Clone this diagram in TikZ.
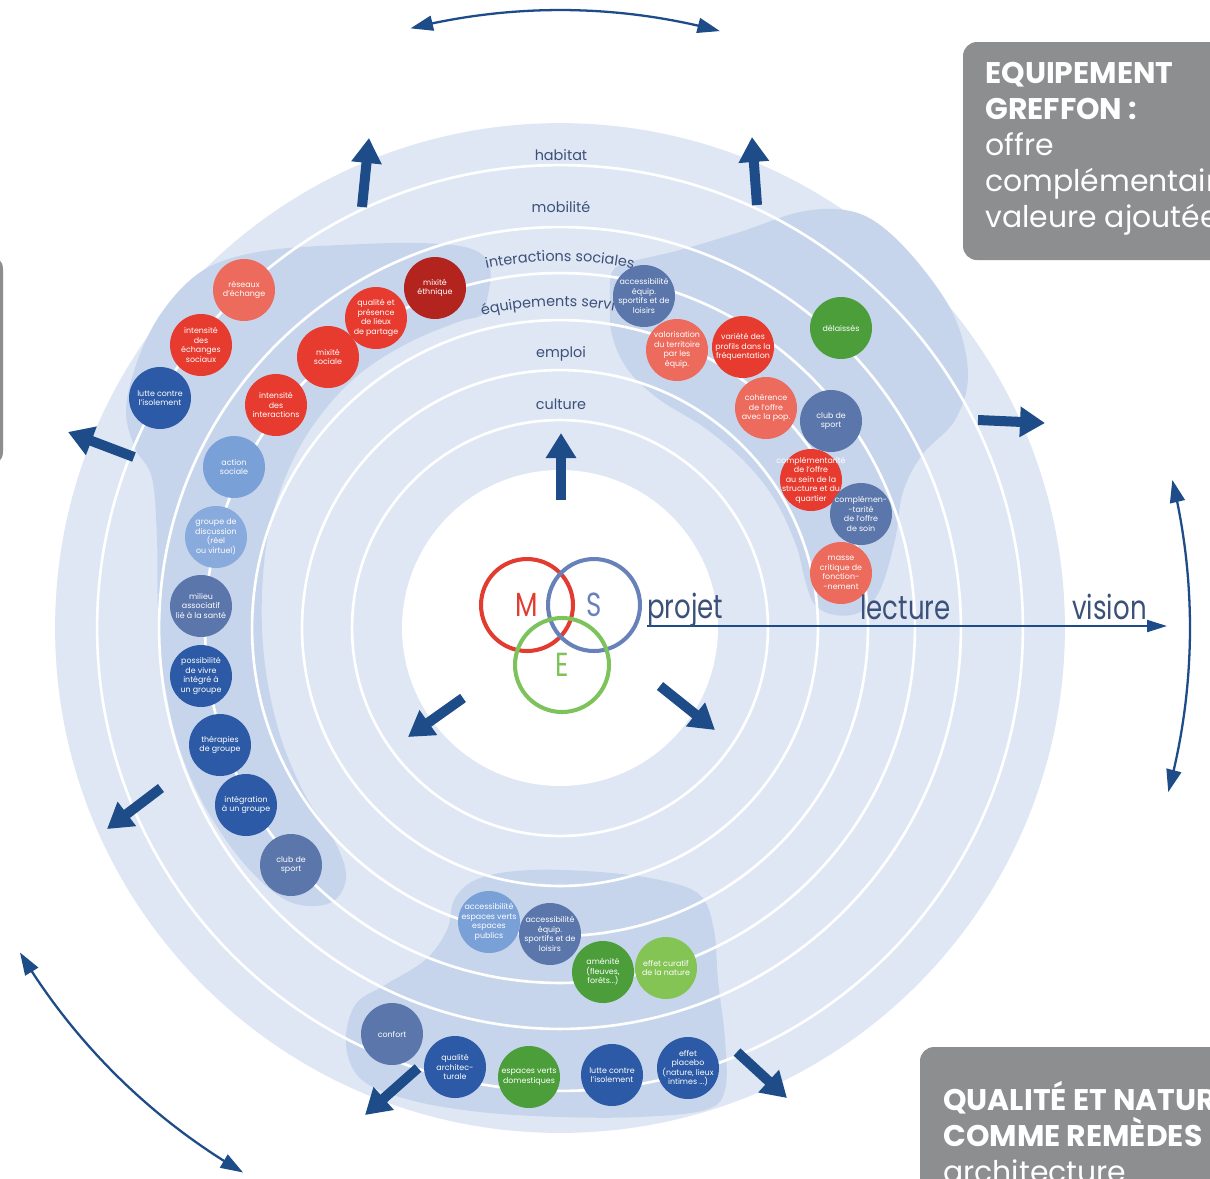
\documentclass[tikz,border=0pt]{standalone}
\usepackage{fontspec}
\setmainfont{Poppins}
\newfontfamily\narrowfont[FakeStretch=0.78]{Poppins}
\usetikzlibrary{arrows.meta,decorations.text,calc}
\definecolor{diskfill}{HTML}{DFE7F4}
\definecolor{blobfill}{HTML}{C7D5EC}
\definecolor{ringtext}{HTML}{3C5179}
\definecolor{arrowblue}{HTML}{1E4C88}
\definecolor{cred}{HTML}{E63B2E}
\definecolor{csalmon}{HTML}{EC6B5D}
\definecolor{cdarkred}{HTML}{B4241F}
\definecolor{cdarkblue}{HTML}{2C5AA6}
\definecolor{cslate}{HTML}{5A76AB}
\definecolor{clightblue}{HTML}{7AA0D8}
\definecolor{clightblueb}{HTML}{88AADC}
\definecolor{cgreen}{HTML}{4C9E3A}
\definecolor{clightgreen}{HTML}{83C455}
\definecolor{vennred}{HTML}{E23B30}
\definecolor{vennslate}{HTML}{6882B9}
\definecolor{venngreen}{HTML}{7CC35B}
\definecolor{boxgray}{HTML}{8C8E90}
\newcommand\bubfont{\fontsize{4.5}{5.4}\selectfont}
\newcommand\ringfont{\fontsize{8.2}{10}\selectfont}
\newcommand\boxfont{\fontsize{17}{20.5}\selectfont}
\newcommand\mybigfont{\narrowfont\fontsize{19}{22}\selectfont}
\tikzset{
  bub/.style={circle, fill=#1, minimum size=1.24cm, inner sep=-14pt, align=center, text=white, font=\bubfont},
  ringline/.style={white, line width=1.5pt},
  fatarrow/.style={draw=arrowblue, line width=5.7pt, -{Triangle[length=0.5cm,width=0.58cm]}},
  thinarrow/.style={draw=arrowblue, line width=1.3pt, {Triangle[length=0.45cm,width=0.3cm]}-{Triangle[length=0.45cm,width=0.3cm]}},
  ringlabel/.style={text=ringtext, font=\ringfont},
  bigtext/.style={text=ringtext, font=\mybigfont, inner sep=0pt},
  graybox/.style={fill=boxgray, rounded corners=0.28cm},
  boxtext/.style={text=white, font=\boxfont, align=left, inner sep=0pt},
  venn/.style={circle, line width=2.3pt, minimum size=1.84cm, inner sep=0pt, font=\mybigfont},
}
\begin{document}
\begin{tikzpicture}[x=0.02cm,y=-0.02cm]
\useasboundingbox (0,0) rectangle (1210,1178);
\clip (0,0) rectangle (1210,1178);
\fill[white] (0,0) rectangle (1210,1178);
\coordinate (C) at (560,628);
% disk
\fill[diskfill] (C) circle[radius=10.1cm];
% blobs
\fill[blobfill] plot[smooth cycle, tension=0.6] coordinates {
 (487,300) (490,268) (472,249) (420,243) (340,245) (270,250) (220,262) (188,282)
 (158,318) (137,362) (126,410) (135,448) (152,478) (157,540) (158,610) (164,680)
 (180,750) (208,812) (248,868) (290,902) (330,903) (346,878) (335,842) (305,795)
 (280,735) (265,665) (262,595) (270,525) (292,462) (323,412) (362,372) (410,342)
 (458,322) (482,315)};
\fill[blobfill] plot[smooth cycle, tension=0.6] coordinates {
 (610,300) (612,272) (630,262) (680,250) (740,232) (800,212) (845,210) (880,225)
 (920,265) (955,318) (968,375) (955,420) (922,455) (903,492) (895,540) (880,590)
 (860,612) (835,615) (815,605) (805,580) (796,545) (775,500) (745,462) (705,428)
 (660,400) (628,370) (612,335)};
\fill[blobfill] plot[smooth cycle, tension=0.6] coordinates {
 (455,898) (480,878) (530,870) (600,872) (660,880) (700,895) (714,930) (718,980)
 (725,1040) (725,1090) (705,1110) (640,1117) (560,1117) (480,1112) (410,1100)
 (362,1080) (346,1045) (355,1005) (385,985) (425,960) (447,930)};
% inner white disk and rings
\fill[white] (C) circle[radius=3.16cm];
\foreach \r in {4.16,5.16,6.16,7.1,8.02,9.26} \draw[ringline] (C) circle[radius=\r cm];
% ring labels
\node[ringlabel] (lhab) at (561,155) {habitat};
\node[ringlabel] (lmob) at (561,207) {mobilité};
\node[ringlabel] (lemp) at (561,354) {emploi};
\node[ringlabel] (lcul) at (561,404) {culture};
\path[decorate, decoration={text along path, text={|\ringfont\color{ringtext}|interactions sociales}, text align=center}]
  plot[domain=-106:-74, samples=60] ({560+367*cos(\x)},{628+367*sin(\x)});
\path[decorate, decoration={text along path, text={|\ringfont\color{ringtext}|équipements servi}, text align=left}]
  plot[domain=-104:-70, samples=60] ({560+322*cos(\x)},{628+322*sin(\x)});
% bubbles left
\node[bub=csalmon] (b1) at (244,290) {réseaux\\d’échange};
\node[bub=cred] (b2) at (201,345) {intensité\\des\\échanges\\sociaux};
\node[bub=cdarkblue] (b3) at (160,398) {lutte contre\\l’isolement};
\node[bub=cdarkred] (b4) at (435,288) {mixité\\éthnique};
\node[bub=cred] (b5) at (376,318) {qualité et\\présence\\de lieux\\de partage};
\node[bub=cred] (b6) at (328,357) {mixité\\sociale};
\node[bub=cred] (b7) at (276,405) {intensité\\des\\interactions};
\node[bub=clightblue] (b8) at (234,467) {action\\sociale};
\node[bub=clightblueb] (b9) at (216,537) {groupe de\\discussion\\(réel\\ou virtuel)};
\node[bub=cslate] (b10) at (201,606) {milieu\\associatif\\lié à la santé};
\node[bub=cdarkblue] (b11) at (201,676) {possibilité\\de vivre\\intégré à\\un groupe};
\node[bub=cdarkblue] (b12) at (220,745) {thérapies\\de groupe};
\node[bub=cdarkblue] (b13) at (246,805) {intégration\\à un groupe};
\node[bub=cslate] (b14) at (291,865) {club de\\sport};
% bubbles right
\node[bub=cslate] (b15) at (644,296) {accessibilité\\équip.\\sportifs et de\\loisirs};
\node[bub=csalmon] (b16) at (677,350) {valorisation\\du territoire\\par les\\équip.};
\node[bub=cred] (b17) at (743,347) {variété des\\profils dans la\\fréquentation};
\node[bub=cgreen] (b18) at (841,328) {délaissés};
\node[bub=csalmon] (b19) at (766,408) {cohérence\\de l’offre\\avec la pop.};
\node[bub=cslate] (b20) at (831,421) {club de\\sport};
\node[bub=cred] (b21) at (811,480) {complémentarité\\de l’offre\\au sein de la\\structure et du\\quartier};
\node[bub=cslate] (b22) at (861,514) {complémen-\\-tarité\\de l’offre\\de soin};
\node[bub=csalmon] (b23) at (841,573) {masse\\critique de\\fonction-\\-nement};
% bubbles bottom
\node[bub=clightblue] (b24) at (489,922) {accessibilité\\espaces verts\\espaces\\publics};
\node[bub=cslate] (b25) at (550,934) {accessibilité\\équip.\\sportifs et de\\loisirs};
\node[bub=cgreen] (b26) at (603,972) {aménité\\(fleuves,\\forêts...)};
\node[bub=clightgreen] (b27) at (666,968) {effet curatif\\de la nature};
\node[bub=cslate] (b28) at (392,1034) {confort};
\node[bub=cdarkblue] (b29) at (455,1067) {qualité\\architec-\\turale};
\node[bub=cgreen] (b30) at (529,1077) {espaces verts\\domestiques};
\node[bub=cdarkblue] (b31) at (612,1075) {lutte contre\\l’isolement};
\node[bub=cdarkblue] (b32) at (688,1068) {effet\\placebo\\(nature, lieux\\intimes ...)};
% venn
\node[venn, draw=vennred, text=vennred] (vm) at (527,605) {M};
\node[venn, draw=vennslate, text=vennslate] (vs) at (594,605) {S};
\node[venn, draw=venngreen, text=venngreen, minimum size=1.88cm] (ve) at (562,665) {E};
% axis
\coordinate (ax0) at (647,626);
\coordinate (ax1) at (1167,626);
\draw[arrowblue, line width=1.2pt, -{Triangle[length=0.4cm,width=0.24cm]}] (ax0) -- (ax1);
\node[bigtext, anchor=base west] (tproj) at (647,618) {projet};
\node[bigtext, anchor=base west] (tlect) at (860,619) {lecture};
\node[bigtext, anchor=base west] (tvis) at (1072,619) {vision};
% fat arrows
\coordinate (a1s) at (362,207); \coordinate (a1e) at (369,138);
\coordinate (a2s) at (757,205); \coordinate (a2e) at (752,137);
\coordinate (a3s) at (134,457); \coordinate (a3e) at (68,432);
\coordinate (a4s) at (978,420); \coordinate (a4e) at (1045,423);
\coordinate (a5s) at (561,500); \coordinate (a5e) at (561,433);
\coordinate (a6s) at (463,698); \coordinate (a6e) at (408,737);
\coordinate (a7s) at (660,686); \coordinate (a7e) at (715,730);
\coordinate (a8s) at (161,788); \coordinate (a8e) at (107,829);
\coordinate (a9s) at (418,1068); \coordinate (a9e) at (365,1115);
\coordinate (a10s) at (737,1052); \coordinate (a10e) at (787,1098);
\foreach \i in {1,...,10} \draw[fatarrow] (a\i s) -- (a\i e);
% thin curved double arrows
\draw[thinarrow] plot[domain=-104:-75, samples=40] ({560+618*cos(\x)},{628+618*sin(\x)});
\draw[thinarrow] plot[domain=-13.6:15.1, samples=40] ({560+630*cos(\x)},{628+630*sin(\x)});
\draw[thinarrow] plot[domain=149:120.2, samples=40] ({560+630*cos(\x)},{628+630*sin(\x)});
% gray boxes
\fill[graybox] (963,42) rectangle (1250,260);
\node[boxtext, anchor=north west] (tbox) at (985,62) {\textbf{EQUIPEMENT}\\\textbf{GREFFON :}\\offre\\complémentaire\\valeure ajoutée};
\fill[graybox] (920,1047) rectangle (1250,1220);
\node[boxtext, anchor=north west] (bbox) at (943,1081) {\textbf{QUALITÉ ET NATURE}\\\textbf{COMME REMÈDES}\\architecture};
\fill[graybox] (-40,255) rectangle (3,466);
\end{tikzpicture}
\end{document}
